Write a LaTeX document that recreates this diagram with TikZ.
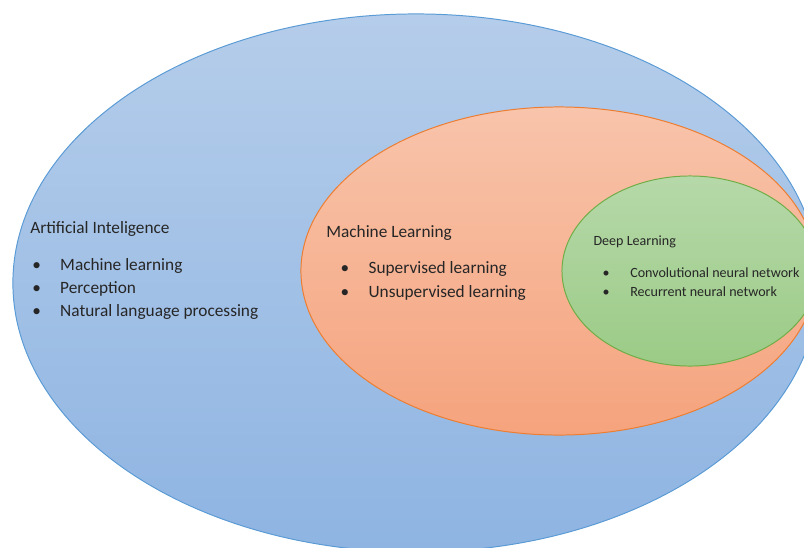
\documentclass[tikz,border=0pt]{standalone}
\usepackage{fontspec}
\setmainfont{Carlito}
\usetikzlibrary{shapes.geometric}

\definecolor{ailine}{HTML}{5B9BD5}
\definecolor{aitop}{HTML}{B5CDEA}
\definecolor{aibot}{HTML}{8EB4E2}
\definecolor{mlline}{HTML}{ED7D31}
\definecolor{mltop}{HTML}{F8C4AB}
\definecolor{mlbot}{HTML}{F5A37D}
\definecolor{dlline}{HTML}{70AD47}
\definecolor{dltop}{HTML}{B6D8A9}
\definecolor{dlbot}{HTML}{9BCB86}
\definecolor{listgray}{HTML}{262626}

% bullet in a box of given width, shifted right by the second argument
\newcommand{\blt}[2]{\makebox[#1][l]{\hspace{#2}\textbullet}}

\begin{document}
\begin{tikzpicture}[x=0.025cm,y=-0.025cm,
		setnode/.style={ellipse,inner sep=0pt,line width=0.7pt},
		listtext/.style={inner sep=0pt,anchor=base west,text=listgray}]
		\useasboundingbox (0,0) rectangle (804,547);
		\clip (0,0) rectangle (804,547);
		% nested sets
		\node[setnode,draw=ailine,top color=aitop,bottom color=aibot,minimum width=20.15cm,minimum height=13.45cm] (ai) at (416,283) {};
		\node[setnode,draw=mlline,top color=mltop,bottom color=mlbot,minimum width=12.9cm,minimum height=8.2cm] (ml) at (559,271) {};
		\node[setnode,draw=dlline,top color=dltop,bottom color=dlbot,minimum width=6.4cm,minimum height=4.75cm] (dl) at (690,271) {};
		% lists
		\node[listtext,font=\fontsize{12.3}{16.7}\selectfont] (aitext) at (30,233.3) {\begin{tabular}[t]{@{}l@{}}
			Artificial Inteligence\\[9.4pt]
			\blt{21.3pt}{1.4pt}Machine learning\\
			\blt{21.3pt}{1.4pt}Perception\\
			\blt{21.3pt}{1.4pt}Natural language processing
		\end{tabular}};
		\node[listtext,font=\fontsize{12.3}{17}\selectfont] (mltext) at (326,237.3) {\begin{tabular}[t]{@{}l@{}}
			Machine Learning\\[8.6pt]
			\blt{30.1pt}{10.2pt}Supervised learning\\
			\blt{30.1pt}{10.2pt}Unsupervised learning
		\end{tabular}};
		\node[listtext,font=\fontsize{10}{13.3}\selectfont] (dltext) at (593.3,245) {\begin{tabular}[t]{@{}l@{}}
			Deep Learning\\[9.7pt]
			\blt{26.1pt}{6.5pt}Convolutional neural network\\
			\blt{26.1pt}{6.5pt}Recurrent neural network
		\end{tabular}};
	\end{tikzpicture}
\end{document}
